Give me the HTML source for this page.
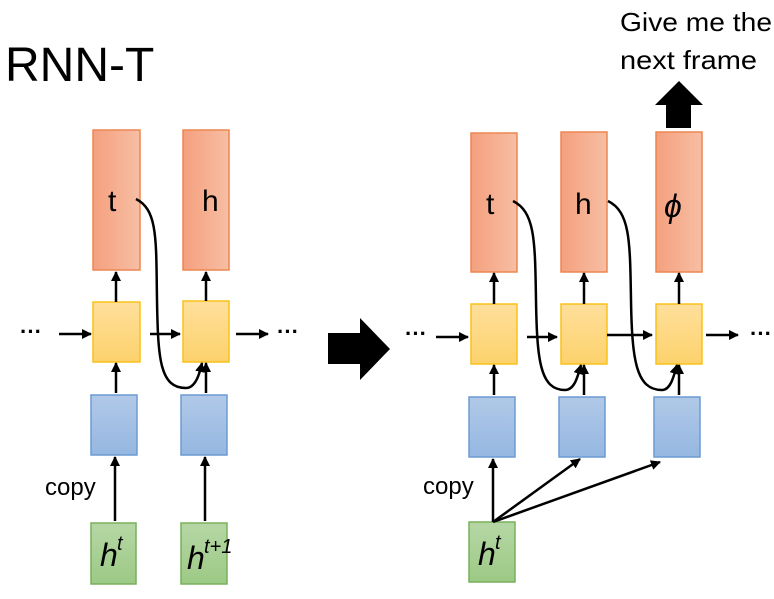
<!DOCTYPE html>
<html><head><meta charset="utf-8"><style>
html,body{margin:0;padding:0;background:#fff;}
svg{display:block;}
text{font-family:"Liberation Sans",sans-serif;fill:#000;}
</style></head><body>
<svg width="774" height="599" viewBox="0 0 774 599" xmlns="http://www.w3.org/2000/svg">
<defs>
<linearGradient id="gr" x1="0" x2="1" y1="0" y2="0"><stop offset="0" stop-color="#f4a07e"/><stop offset="1" stop-color="#f7bea4"/></linearGradient>
<linearGradient id="gy" x1="0" x2="0" y1="0" y2="1"><stop offset="0" stop-color="#fedf9b"/><stop offset="1" stop-color="#fdd26c"/></linearGradient>
<linearGradient id="gb" x1="0" x2="0" y1="0" y2="1"><stop offset="0" stop-color="#b1c9e8"/><stop offset="1" stop-color="#95b7e1"/></linearGradient>
<linearGradient id="gg" x1="0" x2="0" y1="0" y2="1"><stop offset="0" stop-color="#b6d7a5"/><stop offset="1" stop-color="#9cc985"/></linearGradient>
<marker id="a" markerWidth="10" markerHeight="10" refX="9" refY="5" orient="auto" markerUnits="userSpaceOnUse"><path d="M0,0 L10,5 L0,10 z" fill="#000"/></marker>
</defs>
<text x="5" y="81" font-size="48">RNN-T</text>
<text x="620" y="31" font-size="26" textLength="152" lengthAdjust="spacingAndGlyphs">Give me the</text>
<text x="620" y="69" font-size="26" textLength="137" lengthAdjust="spacingAndGlyphs">next frame</text>
<polygon points="679,81 703,105 691,105 691,128 666,128 666,105 655,105" fill="#000"/>
<polygon points="328,333 360,333 360,318 390,349 360,380 360,364 328,364" fill="#000"/>

<g stroke-width="1.5">
<rect x="93" y="130" width="47" height="140" fill="url(#gr)" stroke="#ee8650"/>
<rect x="183" y="130" width="46" height="140" fill="url(#gr)" stroke="#ee8650"/>
<rect x="93" y="302" width="47" height="60" fill="url(#gy)" stroke="#f8c21a"/>
<rect x="183" y="301" width="46" height="61" fill="url(#gy)" stroke="#f8c21a"/>
<rect x="91" y="395" width="46" height="60" fill="url(#gb)" stroke="#6c9bd3"/>
<rect x="181" y="395" width="46" height="60" fill="url(#gb)" stroke="#6c9bd3"/>
<rect x="91" y="523" width="45" height="61" fill="url(#gg)" stroke="#78b05a"/>
<rect x="181" y="523" width="46" height="61" fill="url(#gg)" stroke="#78b05a"/>
<rect x="471" y="133" width="46" height="139" fill="url(#gr)" stroke="#ee8650"/>
<rect x="561" y="132" width="46" height="140" fill="url(#gr)" stroke="#ee8650"/>
<rect x="656" y="132" width="46" height="140" fill="url(#gr)" stroke="#ee8650"/>
<rect x="471" y="304" width="46" height="60" fill="url(#gy)" stroke="#f8c21a"/>
<rect x="561" y="304" width="46" height="60" fill="url(#gy)" stroke="#f8c21a"/>
<rect x="656" y="304" width="46" height="60" fill="url(#gy)" stroke="#f8c21a"/>
<rect x="469" y="397" width="46" height="60" fill="url(#gb)" stroke="#6c9bd3"/>
<rect x="559" y="397" width="46" height="60" fill="url(#gb)" stroke="#6c9bd3"/>
<rect x="654" y="397" width="46" height="60" fill="url(#gb)" stroke="#6c9bd3"/>
<rect x="469" y="522" width="46" height="60" fill="url(#gg)" stroke="#78b05a"/>
</g>

<g font-size="30">
<text x="108" y="211">t</text>
<text x="202" y="211">h</text>
<text x="486" y="214">t</text>
<text x="575" y="214">h</text>
<text x="664" y="217" font-family="Liberation Serif" font-style="italic" font-size="32">ϕ</text>
</g>
<text x="45" y="495" font-size="24">copy</text>
<text x="423" y="494" font-size="24">copy</text>
<g font-family="Liberation Serif" font-style="italic">
<text x="100" y="566" font-size="32">h</text><text x="117" y="550" font-size="20">t</text>
<text x="187" y="569" font-size="32">h</text><text x="204" y="553" font-size="20">t+1</text>
<text x="478" y="565" font-size="32">h</text><text x="495" y="549" font-size="20">t</text>
</g>

<g stroke="#000" stroke-width="2.5" fill="none" marker-end="url(#a)">
<line x1="116" y1="302" x2="116" y2="272"/>
<line x1="206" y1="301" x2="206" y2="272"/>
<line x1="116" y1="393" x2="116" y2="363"/>
<line x1="206" y1="393" x2="206" y2="363"/>
<line x1="115" y1="521" x2="115" y2="457"/>
<line x1="205" y1="521" x2="205" y2="457"/>
<line x1="59" y1="334" x2="91" y2="334"/>
<line x1="150" y1="334" x2="180" y2="334"/>
<line x1="236" y1="334" x2="268" y2="334"/>
<path d="M136,199 C158,210 156,240 157,300 C158,360 160,388 186,388 C196,388 200,372 202,363"/>

<line x1="494" y1="395" x2="494" y2="365"/>
<line x1="584" y1="395" x2="584" y2="365"/>
<line x1="679" y1="395" x2="679" y2="365"/>
<line x1="494" y1="304" x2="494" y2="273"/>
<line x1="584" y1="304" x2="584" y2="273"/>
<line x1="679" y1="304" x2="679" y2="273"/>
<line x1="436" y1="337" x2="468" y2="337"/>
<line x1="527" y1="337" x2="557" y2="337"/>
<line x1="607" y1="335" x2="652" y2="335"/>
<line x1="706" y1="335" x2="738" y2="335"/>
<line x1="493" y1="522" x2="493" y2="459"/>
<line x1="493" y1="522" x2="580" y2="459"/>
<line x1="493" y1="522" x2="660" y2="462"/>
<path d="M513,201 C535,212 535,240 536,300 C537,360 540,390 565,390 C575,390 578,375 581,365"/>
<path d="M608,201 C630,212 630,240 631,300 C632,360 636,390 662,390 C671,390 674,375 677,365"/>
</g>
<g font-size="22" font-weight="bold">
<text x="20" y="339">···</text>
<text x="277" y="339">···</text>
<text x="405" y="341">···</text>
<text x="750" y="341">···</text>
</g>
</svg>
</body></html>
